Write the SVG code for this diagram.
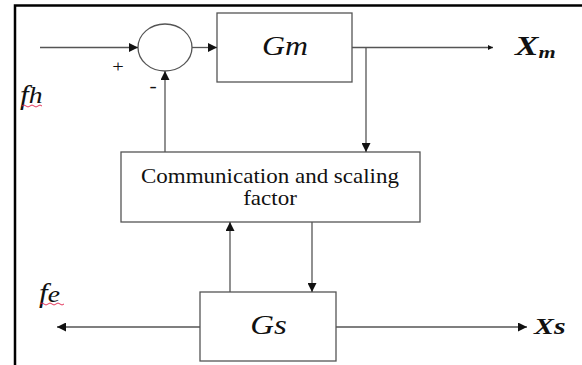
<svg xmlns="http://www.w3.org/2000/svg" width="582" height="365" viewBox="0 0 582 365">
<style>
.box{fill:#fff;stroke:#555;stroke-width:1.3}
.ln{fill:none;stroke:#555;stroke-width:1.3}
text{font-family:'Liberation Serif','Times New Roman','DejaVu Serif',serif;fill:#111}
.it{font-style:italic}
.bi{font-style:italic;font-weight:bold}
.sq{fill:none;stroke:#e0204a;stroke-width:0.9}
</style>
<defs>
<marker id="ah" viewBox="0 0 10 10" refX="10" refY="5" markerWidth="9" markerHeight="9" markerUnits="userSpaceOnUse" orient="auto">
<path d="M0,0 L10,5 L0,10 z" fill="#111"/>
</marker>
<marker id="ahs" viewBox="0 0 10 10" refX="10" refY="5" markerWidth="5" markerHeight="6" markerUnits="userSpaceOnUse" orient="auto">
<path d="M0,0 L10,5 L0,10 z" fill="#111"/>
</marker>
</defs>
<rect width="582" height="365" fill="#fff"/>
<path d="M15,365 V5.5 H582" fill="none" stroke="#000" stroke-width="2.5"/>

<g id="sum">
<ellipse cx="165" cy="47.5" rx="27" ry="23.5" class="box"/>
<text transform="translate(118,72) scale(1.2,1)" font-size="17" text-anchor="middle">+</text>
<text transform="translate(153,92) scale(1.2,1)" font-size="18" text-anchor="middle">-</text>
</g>
<g id="Gm">
<rect x="217" y="13" width="135" height="69" class="box"/>
<text transform="translate(285,55) scale(1.18,1)" class="it" font-size="27" text-anchor="middle">Gm</text>
</g>
<g id="comm">
<rect x="121" y="152" width="299" height="70" class="box"/>
<text transform="translate(270,183) scale(1.15,1)" font-size="20" text-anchor="middle">Communication and scaling</text>
<text transform="translate(270,205) scale(1.15,1)" font-size="20" text-anchor="middle">factor</text>
</g>
<g id="Gs">
<rect x="200" y="292" width="136" height="69" class="box"/>
<text transform="translate(268.5,334) scale(1.22,1)" class="it" font-size="27" text-anchor="middle">Gs</text>
</g>
<g id="labels">
<text transform="translate(20,104) scale(1.15,1)" class="it" font-size="27">f<tspan font-size="24" dy="-1">h</tspan></text>
<path class="sq" d="M22,106 q2,-2 4,0 t4,0 t4,0 t4,0 t4,0"/>
<text transform="translate(39,302) scale(1.15,1)" class="it" font-size="27">f<tspan font-size="24">e</tspan></text>
<path class="sq" d="M40,304 q2,-2 4,0 t4,0 t4,0 t4,0 t4,0 t4,0"/>
<text transform="translate(515,55) scale(1.3,1)" class="bi" font-size="27">X<tspan font-size="17" dy="3">m</tspan></text>
<text transform="translate(534,334) scale(1.3,1)" class="bi" font-size="23">Xs</text>
</g>
<g id="connectors">
<line x1="40" y1="47.5" x2="138" y2="47.5" class="ln" marker-end="url(#ah)"/>
<line x1="192" y1="47.5" x2="217" y2="47.5" class="ln" marker-end="url(#ah)"/>
<line x1="352" y1="47.5" x2="493" y2="47.5" class="ln" marker-end="url(#ahs)"/>
<line x1="366" y1="47.5" x2="366" y2="152" class="ln" marker-end="url(#ah)"/>
<line x1="165" y1="152" x2="165" y2="71" class="ln" marker-end="url(#ah)"/>
<line x1="230" y1="292" x2="230" y2="222" class="ln" marker-end="url(#ah)"/>
<line x1="312" y1="222" x2="312" y2="292" class="ln" marker-end="url(#ah)"/>
<line x1="200" y1="327" x2="57" y2="327" class="ln" marker-end="url(#ah)"/>
<line x1="336" y1="327" x2="527" y2="327" class="ln" marker-end="url(#ah)"/>
</g>
</svg>
